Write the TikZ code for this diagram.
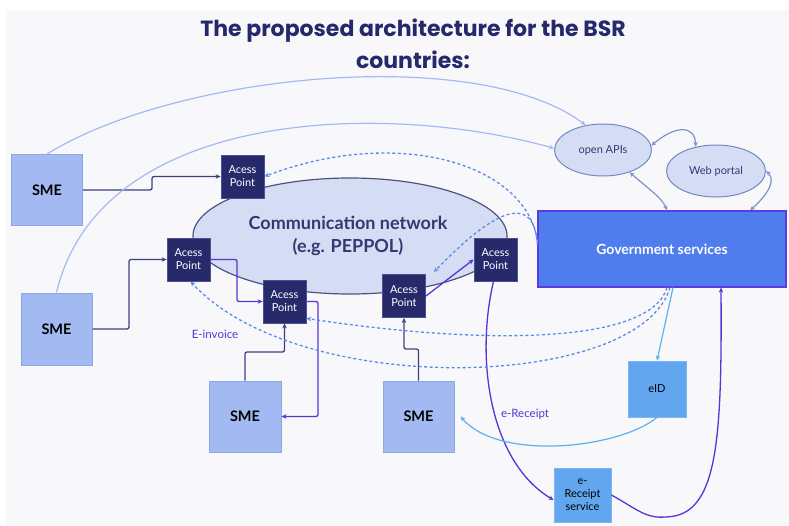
\documentclass[tikz,border=0pt]{standalone}
\usepackage{fontspec}
\setmainfont{Lato}
\newfontfamily\titlefont{Poppins}
\usetikzlibrary{arrows.meta,shapes.geometric}
\definecolor{bgc}{HTML}{F8F8FA}
\definecolor{titlec}{HTML}{25296B}
\definecolor{smefill}{HTML}{A3B9F1}
\definecolor{smedraw}{HTML}{8EA6E6}
\definecolor{apfill}{HTML}{262A6B}
\definecolor{apdraw}{HTML}{4A5090}
\definecolor{netfill}{HTML}{D5DDF5}
\definecolor{netdraw}{HTML}{4D5282}
\definecolor{govfill}{HTML}{4F7DED}
\definecolor{govdraw}{HTML}{5A3DE0}
\definecolor{smalldraw}{HTML}{7088C4}
\definecolor{lbfill}{HTML}{62A6EF}
\definecolor{lbdraw}{HTML}{7AB6F0}
\definecolor{navyc}{HTML}{3B4080}
\definecolor{purplec}{HTML}{5A32D6}
\definecolor{lightbluec}{HTML}{5EB0EE}
\definecolor{peric}{HTML}{A5B8F5}
\definecolor{dashc}{HTML}{5B8AE8}
\definecolor{steelc}{HTML}{7D93C9}
\definecolor{nettext}{HTML}{343870}
\tikzset{
  smebox/.style={draw=smedraw,fill=smefill,line width=1pt,inner sep=0pt,
    font=\bfseries\fontsize{14.5}{16}\selectfont,text=black},
  apbox/.style={draw=apdraw,fill=apfill,line width=0.8pt,inner sep=0pt,
    minimum width=43pt,minimum height=43pt,align=center,text=white,
    font=\fontsize{11}{13}\selectfont},
  smallell/.style={ellipse,draw=smalldraw,fill=netfill,line width=1pt,inner sep=0pt,
    font=\fontsize{11}{12}\selectfont,text=nettext},
  lbbox/.style={draw=lbdraw,fill=lbfill,line width=0.8pt,inner sep=0pt,align=center,
    text=black,font=\fontsize{11}{13}\selectfont},
  tip/.style={-{Stealth[length=5pt,width=4.5pt]}},
  navyline/.style={draw=navyc,line width=1.3pt,rounded corners=2pt,tip},
  purpleline/.style={draw=purplec,line width=1.3pt,rounded corners=2pt,tip},
  lightline/.style={draw=lightbluec,line width=1.2pt,tip},
  periline/.style={draw=peric,line width=1.2pt,tip},
  dashline/.style={draw=dashc,line width=1.3pt,dash pattern=on 3pt off 2.5pt,tip},
  steelline/.style={draw=steelc,line width=1.2pt,{Stealth[length=5pt,width=4.5pt]}-{Stealth[length=5pt,width=4.5pt]}},
  lbl/.style={text=purplec,font=\fontsize{11.5}{13}\selectfont}
}
\begin{document}
\begin{tikzpicture}[x=1pt,y=-1pt]
\useasboundingbox (0,0) rectangle (789,525);
\fill[white] (0,0) rectangle (789,525);
\fill[bgc] (6,10) rectangle (789,525);

% title
\node[text=titlec,font=\titlefont\bfseries\fontsize{22}{32}\selectfont,align=center] (title) at (413,44)
  {The proposed architecture for the BSR\\countries:};

% network ellipse
\node[ellipse,draw=netdraw,fill=netfill,line width=1.2pt,minimum width=314pt,minimum height=116pt,inner sep=0pt] (net) at (350,236) {};
\node[text=nettext,font=\bfseries\fontsize{18}{23}\selectfont,align=center] (nettxt) at (348,236) {Communication network\\(e.g. PEPPOL)};

% SMEs
\node[smebox,minimum width=71pt,minimum height=71pt] (sme1) at (47,190) {SME};
\node[smebox,minimum width=71pt,minimum height=72pt] (sme2) at (56.5,329) {SME};
\node[smebox,minimum width=72pt,minimum height=71pt] (sme3) at (245,416.5) {SME};
\node[smebox,minimum width=71pt,minimum height=71pt] (sme4) at (418.5,416.5) {SME};

% access points
\node[apbox] (ap1) at (242.5,176.5) {Acess\\Point};
\node[apbox] (ap2) at (188.5,259.5) {Acess\\Point};
\node[apbox] (ap3) at (284.5,301.5) {Acess\\Point};
\node[apbox] (ap4) at (404,296) {Acess\\Point};
\node[apbox] (ap5) at (495.5,259.5) {Acess\\Point};

% government
\node[draw=govdraw,fill=govfill,line width=1.2pt,minimum width=248pt,minimum height=76pt,inner sep=0pt,
  text=white,font=\bfseries\fontsize{14}{16}\selectfont] (gov) at (662,249) {Government services};

% small ellipses
\node[smallell,minimum width=97pt,minimum height=52pt] (api) at (603,150) {open APIs};
\node[smallell,minimum width=99pt,minimum height=52pt] (web) at (716,171) {Web portal};

% eID and e-Receipt service
\node[lbbox,minimum width=58pt,minimum height=56pt] (eid) at (657,389) {eID};
\node[lbbox,minimum width=57pt,minimum height=54pt] (ers) at (582.5,495) {e-\\Receipt\\service};

% labels
\node[lbl] (einv) at (215,334) {E-invoice};
\node[lbl] (erec) at (525,414) {e-Receipt};

\coordinate (netpt) at (434,272);

% navy connectors
\draw[navyline] (sme1.east) -- (152,190) -- (152,176.5) -- (ap1.west);
\draw[navyline] (sme2.east) -- (129,329) -- (129,259.5) -- (ap2.west);
\draw[navyline] (sme3.north) -- (245,352) -- (284.5,352) -- (ap3.south);
\draw[navyline] (sme4.north) -- (418.5,349) -- (404,349) -- (ap4.south);

% purple connectors
\draw[purpleline] (ap2.east) -- (237,259.5) -- (237,301.5) -- (ap3.west);
\draw[purpleline] (ap3.east) -- (318,301.5) -- (318,416.5) -- (sme3.east);
\draw[purpleline] (ap4.east) -- (ap5.west);
\draw[purpleline] ([xshift=-2pt]ap5.south) .. controls (475,360) and (490,462) .. ([yshift=-5pt]ers.west);
\draw[purpleline] (ers.east) .. controls (635,508) and (645,518) .. (665,517)
   .. controls (718,515) and (722,440) .. ([xshift=59pt]gov.south);

% light blue
\draw[lightline] ([xshift=11pt]gov.south) -- (eid.north);
\draw[lightline] (eid.south) .. controls (620,448) and (500,462) .. ([xshift=6pt]sme4.east);

% periwinkle long curves
\draw[periline] (sme1.north) .. controls (180,72) and (480,45) .. (api.125);
\draw[periline] (sme2.north) .. controls (100,110) and (380,100) .. (api.178);

% steel double arrows
\draw[steelline] (api.-40) .. controls (650,190) and (662,198) .. ([xshift=5pt]gov.north);
\draw[steelline] (api.5) .. controls (675,125) and (695,125) .. (web.130);
\draw[steelline] (web.east) .. controls (778,182) and (762,200) .. ([xshift=88pt]gov.north);

% dashed curves
\draw[dashline] ([yshift=7pt]gov.west) .. controls (528,165) and (400,125) .. (ap1.east);
\draw[dashline] ([yshift=4pt]gov.west) .. controls (535,200) and (505,198) .. (netpt);
\draw[dashline] ([xshift=5pt]gov.south) .. controls (650,345) and (480,345) .. ([yshift=5pt]ap3.south east);
\draw[dashline] ([xshift=8pt]gov.south) .. controls (640,390) and (300,400) .. ([xshift=2pt]ap2.south);
\end{tikzpicture}
\end{document}
